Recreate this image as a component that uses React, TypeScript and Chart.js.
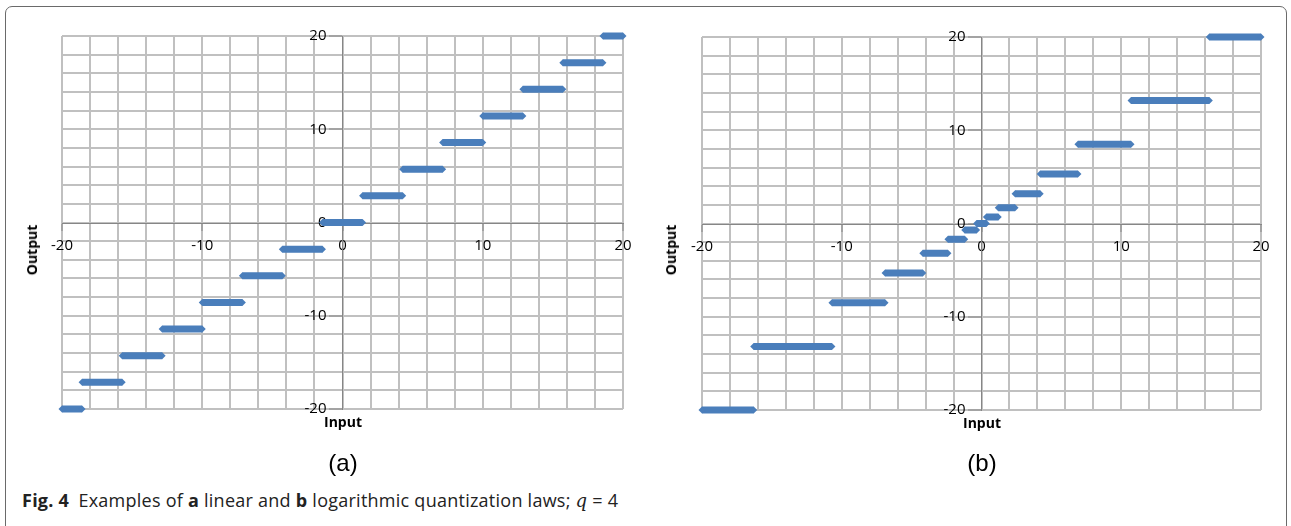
import React, { useEffect, useRef } from "react";
import { Chart, registerables } from "chart.js";

Chart.register(...registerables);

// (a) linear quantization law: output level of each step and its input interval
const linearLevels = [-20, -17.14, -14.29, -11.43, -8.57, -5.71, -2.86, 0, 2.86, 5.71, 8.57, 11.43, 14.29, 17.14, 20];
const linearFrom = [-20, -18.57, -15.71, -12.86, -10, -7.14, -4.29, -1.43, 1.43, 4.29, 7.14, 10, 12.86, 15.71, 18.57];
const linearTo = [-18.57, -15.71, -12.86, -10, -7.14, -4.29, -1.43, 1.43, 4.29, 7.14, 10, 12.86, 15.71, 18.57, 20];

// (b) logarithmic quantization law: output level of each step and its input interval
const logLevels = [-20, -13.2, -8.5, -5.3, -3.2, -1.7, -0.7, 0, 0.7, 1.7, 3.2, 5.3, 8.5, 13.2, 20];
const logFrom = [-20, -16.3, -10.7, -6.9, -4.2, -2.4, -1.2, -0.35, 0.35, 1.2, 2.4, 4.2, 6.9, 10.7, 16.3];
const logTo = [-16.3, -10.7, -6.9, -4.2, -2.4, -1.2, -0.35, 0.35, 1.2, 2.4, 4.2, 6.9, 10.7, 16.3, 20];

// axis range and tick labels shared by both panels
const axisMin = -20;
const axisMax = 20;
const gridStep = 2;
const tickLabels = [-20, -10, 0, 10, 20];

const STEP_COLOR = "#4a7ebb";
const GRID_COLOR = "#c0c0c0";
const AXIS_COLOR = "#868686";
const TICK_FONT = { family: "'Open Sans', sans-serif", size: 15 };

function stepPoints(levels: number[], from: number[], to: number[]) {
  const pts: { x: number; y: number | null }[] = [];
  levels.forEach((lv, i) => {
    pts.push({ x: from[i], y: lv });
    pts.push({ x: to[i], y: lv });
    pts.push({ x: to[i], y: null });
  });
  return pts;
}

// both axes cross at the origin, which is the centre of the symmetric range
function axisOptions(axis: "x" | "y") {
  return {
    type: "linear" as const,
    min: axisMin,
    max: axisMax,
    position: "center" as const,
    border: { display: true, color: AXIS_COLOR, width: 1 },
    grid: {
      color: GRID_COLOR,
      lineWidth: 2,
      drawTicks: true,
      tickLength: axis === "x" ? 7 : 13,
      tickWidth: 1,
      tickColor: (ctx: any) =>
        ctx.tick && tickLabels.includes(ctx.tick.value) ? AXIS_COLOR : "rgba(0,0,0,0)",
    },
    ticks: {
      stepSize: gridStep,
      autoSkip: false,
      maxRotation: 0,
      padding: axis === "x" ? 7 : 3,
      color: "#000",
      font: TICK_FONT,
      callback: (v: any) => (tickLabels.includes(Number(v)) ? String(v) : ""),
    },
  };
}

function StepChart(props: {
  levels: number[];
  from: number[];
  to: number[];
  width: number;
  height: number;
  padding: { left: number; right: number; top: number; bottom: number };
  style: React.CSSProperties;
}) {
  const ref = useRef<HTMLCanvasElement | null>(null);
  useEffect(() => {
    if (!ref.current) return;
    const chart = new Chart(ref.current, {
      type: "line",
      data: {
        datasets: [
          {
            data: stepPoints(props.levels, props.from, props.to) as any,
            borderColor: STEP_COLOR,
            backgroundColor: STEP_COLOR,
            borderWidth: 7,
            borderCapStyle: "butt",
            pointStyle: "rectRot",
            pointRadius: 3.5,
            pointBorderWidth: 0,
            pointBackgroundColor: STEP_COLOR,
            spanGaps: false,
            clip: false as any,
          },
        ],
      },
      options: {
        responsive: false,
        maintainAspectRatio: false,
        devicePixelRatio: 1,
        animation: false,
        events: [],
        parsing: false as any,
        layout: { padding: props.padding },
        plugins: { legend: { display: false }, tooltip: { enabled: false } },
        scales: { x: axisOptions("x") as any, y: axisOptions("y") as any },
      },
    });
    return () => chart.destroy();
  }, []);
  return <canvas ref={ref} width={props.width} height={props.height} style={props.style} />;
}

const centered = (x: number, y: number): React.CSSProperties => ({
  position: "absolute",
  left: x,
  top: y,
  transform: "translate(-50%, -50%)",
  lineHeight: 1,
  whiteSpace: "nowrap",
});

export default function App() {
  const titleFont: React.CSSProperties = {
    fontFamily: "'Open Sans', sans-serif",
    fontWeight: 700,
    fontSize: 14,
    color: "#000",
  };
  const panelFont: React.CSSProperties = {
    fontFamily: "'Liberation Sans', Arial, sans-serif",
    fontSize: 24,
    color: "#000",
  };
  return (
    <div
      style={{
        position: "absolute",
        left: 0,
        top: 0,
        width: 1291,
        height: 526,
        background: "#fff",
        overflow: "hidden",
      }}
    >
      <div
        style={{
          position: "absolute",
          left: 5,
          top: 6,
          width: 1282,
          height: 560,
          border: "1px solid #6a6a6a",
          borderRadius: 7,
          boxSizing: "border-box",
        }}
      />
      <StepChart
        levels={linearLevels}
        from={linearFrom}
        to={linearTo}
        width={660}
        height={440}
        padding={{ left: 62, right: 37, top: 36, bottom: 31 }}
        style={{ position: "absolute", left: 0, top: 0 }}
      />
      <StepChart
        levels={logLevels}
        from={logFrom}
        to={logTo}
        width={641}
        height={440}
        padding={{ left: 52, right: 30, top: 37, bottom: 30 }}
        style={{ position: "absolute", left: 650, top: 0 }}
      />
      <div style={{ ...centered(32, 250), ...titleFont, transform: "translate(-50%, -50%) rotate(-90deg)" }}>Output</div>
      <div style={{ ...centered(671, 250), ...titleFont, transform: "translate(-50%, -50%) rotate(-90deg)" }}>Output</div>
      <div style={{ ...centered(343, 422), ...titleFont }}>Input</div>
      <div style={{ ...centered(982, 423), ...titleFont }}>Input</div>
      <div style={{ ...centered(343, 463), ...panelFont }}>(a)</div>
      <div style={{ ...centered(982, 463), ...panelFont }}>(b)</div>
      <div
        style={{
          position: "absolute",
          left: 22,
          top: 500,
          transform: "translateY(-50%)",
          lineHeight: 1,
          whiteSpace: "nowrap",
          fontFamily: "'Open Sans', sans-serif",
          fontSize: 18,
          letterSpacing: 0.25,
          color: "#222",
        }}
      >
        <b>Fig. 4</b>
        {"\u2002Examples of "}
        <b>a</b>
        {" linear and "}
        <b>b</b>
        {" logarithmic quantization laws; "}
        <i style={{ fontFamily: "'DejaVu Serif', serif" }}>q</i>
        {" = 4"}
      </div>
    </div>
  );
}
